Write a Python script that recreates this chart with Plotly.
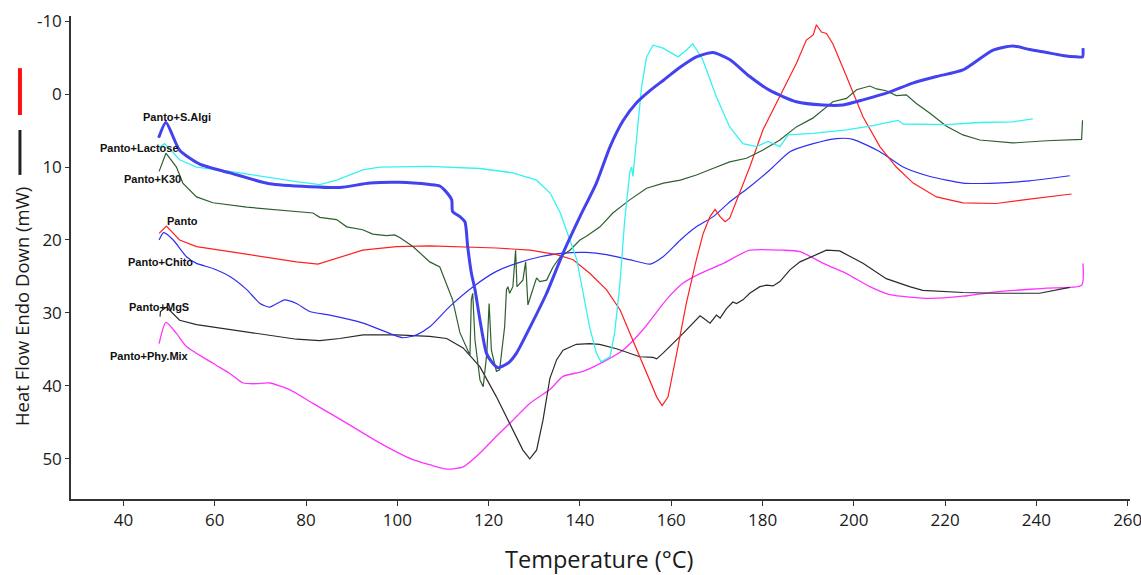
import plotly.graph_objects as go

# ---------------- data (temperature °C, heat flow mW) ----------------
algi_t = [47.7, 49.3, 52.3, 56.7, 63.3, 72.0, 80.8, 87.4, 94.0, 100.5, 107.1, 109.3, 110.4, 111.9, 112.1, 113.7,
          114.8, 115.4, 116.2, 117.0, 118.1, 119.5, 120.9, 122.0, 124.2, 126.1, 129.1, 132.7, 136.3, 140.0, 143.6,
          146.6, 149.5, 152.4, 155.4, 158.3, 162.0, 165.5, 169.1, 172.8, 177.2, 181.6, 187.4, 193.2, 197.6, 202.0,
          207.9, 212.9, 218.1, 223.9, 230.4, 234.8, 238.5, 242.2, 245.7, 248.8, 250.1, 250.2]
algi_v = [6.0, 3.9, 7.7, 9.6, 10.8, 12.3, 12.7, 12.8, 12.2, 12.1, 12.4, 12.6, 13.2, 14.5, 16.1, 16.8,
          17.5, 20.9, 24.5, 26.8, 31.0, 35.5, 36.9, 37.5, 36.9, 35.5, 31.9, 27.3, 21.8, 16.8, 12.2,
          7.2, 3.6, 1.2, -0.5, -1.9, -3.7, -5.1, -5.7, -4.75, -2.4, -0.5, 1.05, 1.5, 1.5, 0.8,
          -0.3, -1.5, -2.4, -3.3, -6.0, -6.6, -6.1, -5.7, -5.3, -5.1, -5.1, -6.3]

lact_t = [47.7, 49.0, 52.3, 56.0, 63.3, 70.5, 77.9, 83.0, 86.7, 92.4, 96.1, 107.1, 118.1, 125.3, 130.5, 133.5,
          135.7, 137.8, 139.3, 140.7, 142.1, 143.6, 144.6, 146.6, 147.6, 148.7, 149.8, 150.9, 151.3, 151.6, 152.4,
          153.5, 154.6, 156.0, 158.2, 161.5, 163.3, 164.7, 166.9, 169.9, 172.8, 175.7, 178.7, 181.2, 183.8, 185.6,
          191.0, 198.4, 203.5, 209.7, 210.8, 220.3, 227.6, 234.8, 239.2]
lact_v = [7.4, 6.8, 9.0, 10.0, 10.6, 11.3, 12.0, 12.4, 11.8, 10.4, 10.0, 9.9, 10.2, 10.8, 11.8, 13.6,
          16.3, 20.0, 22.7, 27.3, 31.9, 35.5, 36.7, 36.0, 32.7, 26.4, 17.3, 10.8, 10.0, 11.3, 5.8,
          -1.0, -5.1, -6.7, -6.3, -5.1, -6.0, -6.9, -4.7, 0.4, 4.5, 6.8, 7.2, 6.5, 7.2, 5.6,
          5.4, 4.9, 4.4, 3.6, 4.1, 4.2, 3.9, 3.8, 3.4]

k30_t = [47.8, 49.3, 51.6, 53.0, 56.0, 59.6, 67.0, 74.2, 81.5, 83.0, 86.7, 88.9, 92.4, 94.6, 97.6, 99.4,
         100.6, 103.4, 107.1, 109.3, 110.4, 112.1, 113.7, 115.1, 115.9, 116.2, 116.5, 117.0, 118.1, 118.8, 119.6,
         120.1, 120.6, 121.7, 122.4, 123.5, 123.9, 124.2, 124.6, 125.3, 125.9, 126.2, 127.5, 128.1, 128.6, 129.4,
         130.5, 131.2, 132.7, 134.1, 135.7, 137.8, 140.0, 141.4, 144.4, 147.2, 150.9, 154.6, 158.3, 162.0, 165.5,
         169.1, 172.8, 176.5, 180.0, 183.8, 187.4, 191.0, 195.4, 198.4, 200.6, 203.5, 205.0, 207.1, 209.3, 211.5,
         213.7, 216.6, 220.3, 223.9, 227.6, 234.8, 242.2, 249.9, 250.1]
k30_v = [10.6, 8.1, 10.0, 12.2, 14.1, 14.9, 15.5, 15.9, 16.3, 16.9, 17.2, 18.2, 18.6, 19.2, 19.4, 19.3,
         19.7, 20.9, 23.0, 23.7, 25.5, 28.2, 32.7, 34.6, 35.8, 28.2, 27.3, 33.7, 39.2, 40.1, 35.5,
         28.7, 35.1, 38.0, 37.8, 31.9, 26.8, 26.4, 27.3, 26.4, 21.4, 26.4, 25.5, 23.0, 28.9, 27.3,
         25.2, 25.7, 25.5, 23.7, 22.3, 21.4, 20.0, 19.5, 18.2, 16.3, 14.5, 12.9, 12.2, 11.8, 11.1,
         10.2, 9.3, 8.8, 7.7, 6.3, 4.5, 3.3, 1.05, 0.6, -0.6, -1.1, -0.7, -0.45, 0.2, 0.1,
         1.3, 2.6, 4.4, 5.6, 6.3, 6.7, 6.4, 6.2, 3.6]

panto_t = [47.8, 49.4, 52.3, 56.0, 63.3, 70.5, 77.9, 82.6, 86.7, 92.4, 99.8, 107.1, 121.7, 129.1, 134.9, 138.5,
           142.2, 145.8, 148.8, 151.6, 154.6, 156.8, 158.0, 159.3, 161.2, 163.3, 165.5, 167.0, 168.5, 169.6, 170.7,
           171.8, 172.8, 175.0, 177.2, 180.1, 183.8, 187.4, 189.6, 191.1, 191.8, 192.9, 194.0, 195.4, 198.4, 202.0,
           205.7, 209.3, 213.0, 218.1, 223.9, 231.2, 238.5, 247.7]
panto_v = [19.1, 18.1, 20.0, 20.9, 21.6, 22.3, 23.0, 23.3, 22.5, 21.4, 20.9, 20.8, 21.1, 21.4, 22.0, 22.7,
           24.6, 26.8, 29.6, 33.7, 38.2, 41.5, 42.7, 41.5, 35.5, 28.7, 22.7, 19.1, 16.8, 15.8, 16.8,
           17.5, 17.0, 13.6, 10.0, 4.9, 0.4, -4.2, -7.4, -8.1, -9.5, -8.5, -8.3, -6.9, -2.4, 3.1,
           7.2, 10.0, 12.2, 14.1, 14.9, 15.0, 14.4, 13.7]

chito_t = [47.8, 48.8, 50.9, 53.8, 56.0, 59.6, 63.3, 67.0, 69.9, 72.0, 75.3, 77.9, 80.8, 85.2, 92.5, 98.3,
           101.2, 104.2, 107.1, 111.5, 116.6, 121.7, 126.1, 131.3, 136.3, 141.4, 145.8, 150.9, 155.4, 158.2, 162.0,
           165.5, 169.2, 172.8, 177.2, 181.6, 186.0, 191.1, 196.2, 199.8, 205.7, 210.8, 216.7, 223.9, 231.2, 238.5,
           247.3]
chito_v = [20.0, 19.0, 20.0, 22.3, 23.2, 23.9, 25.0, 26.8, 28.7, 29.2, 28.2, 28.7, 29.8, 30.3, 31.4, 32.8,
           33.4, 33.0, 31.9, 29.1, 26.4, 24.3, 23.2, 22.3, 21.8, 21.7, 22.0, 22.7, 23.3, 22.3, 20.0,
           18.2, 16.8, 14.8, 12.7, 10.4, 7.9, 6.8, 6.1, 6.2, 7.9, 10.0, 11.3, 12.2, 12.2, 11.9,
           11.2]

mgs_t = [48.0, 48.1, 49.4, 52.3, 56.0, 63.3, 70.6, 77.9, 83.0, 87.4, 92.5, 99.8, 107.1, 110.8, 114.4, 118.1,
         121.7, 125.3, 127.5, 129.0, 130.5, 131.9, 133.4, 134.9, 136.3, 139.2, 142.1, 144.3, 148.0, 153.1, 156.0,
         156.8, 158.2, 162.6, 166.3, 167.0, 168.5, 169.9, 170.7, 172.1, 173.5, 174.3, 175.7, 177.2, 179.4, 180.9,
         182.3, 183.8, 186.0, 188.2, 194.0, 196.9, 202.0, 207.1, 212.2, 215.1, 223.9, 231.2, 240.7, 247.3]
mgs_v = [30.5, 29.8, 29.2, 31.0, 31.6, 32.3, 33.0, 33.6, 33.8, 33.5, 33.0, 33.0, 33.2, 33.5, 34.8, 37.4,
         41.5, 46.0, 48.8, 50.0, 48.8, 44.7, 39.0, 36.4, 35.1, 34.3, 34.2, 34.3, 34.9, 36.0, 36.1,
         36.3, 35.5, 32.8, 30.4, 30.7, 31.4, 30.3, 30.7, 29.4, 28.5, 28.7, 28.2, 27.3, 26.4, 26.2,
         26.3, 25.7, 24.1, 23.0, 21.4, 21.5, 23.2, 25.3, 26.4, 26.9, 27.2, 27.3, 27.3, 26.5]

phy_t = [47.8, 49.3, 51.6, 53.8, 59.6, 63.3, 66.2, 69.1, 72.0, 76.4, 81.5, 88.9, 96.1, 103.4, 107.1, 110.8,
         114.4, 118.1, 121.7, 125.3, 129.0, 133.4, 136.3, 140.7, 145.1, 149.4, 153.8, 158.9, 162.6, 166.3, 171.4,
         177.2, 184.4, 188.2, 193.3, 198.4, 203.5, 207.9, 216.7, 223.9, 231.2, 242.2, 249.9, 250.2]
phy_v = [34.2, 31.3, 32.8, 34.6, 36.9, 38.3, 39.6, 39.7, 39.6, 40.5, 42.4, 45.1, 47.8, 50.1, 50.8, 51.4,
         51.1, 49.2, 46.9, 44.7, 42.4, 40.5, 38.7, 38.0, 36.7, 35.1, 32.3, 28.2, 25.9, 24.6, 23.2,
         21.4, 21.4, 21.6, 23.2, 24.6, 26.4, 27.5, 28.0, 27.7, 27.1, 26.6, 26.2, 23.2]

x_ticks = [40, 60, 80, 100, 120, 140, 160, 180, 200, 220, 240, 260]
y_ticks = [-10, 0, 10, 20, 30, 40, 50]

series = [
    ("Panto+Phy.Mix", phy_t, phy_v, "#ff33ff", 1.3, "spline"),
    ("Panto+MgS", mgs_t, mgs_v, "#2a2a2a", 1.2, "linear"),
    ("Panto+Chito", chito_t, chito_v, "#2f2ff0", 1.2, "spline"),
    ("Panto", panto_t, panto_v, "#ff2020", 1.2, "linear"),
    ("Panto+K30", k30_t, k30_v, "#2f5f2f", 1.2, "linear"),
    ("Panto+Lactose", lact_t, lact_v, "#33f2f2", 1.3, "linear"),
    ("Panto+S.Algi", algi_t, algi_v, "#4242ee", 3.0, "spline"),
]

labels = [
    ("Panto+S.Algi", 51.7, 3.2),
    ("Panto+Lactose", 43.4, 7.4),
    ("Panto+K30", 46.4, 11.6),
    ("Panto", 53.0, 17.4),
    ("Panto+Chito", 48.0, 23.0),
    ("Panto+MgS", 47.7, 29.2),
    ("Panto+Phy.Mix", 45.8, 35.9),
]

fig = go.Figure()
for name, t, v, col, w, shp in series:
    line = dict(color=col, width=w, shape=shp)
    if shp == "spline":
        line["smoothing"] = 0.6
    fig.add_trace(go.Scatter(x=t, y=v, mode="lines", name=name, line=line, showlegend=False))

annotations = []
for txt, lx, ly in labels:
    annotations.append(dict(x=lx, y=ly, xref="x", yref="y", text="<b>" + txt + "</b>", showarrow=False,
                            font=dict(family="Liberation Sans, Arial", size=11, color="#111111"),
                            xanchor="center", yanchor="middle"))
annotations.append(dict(x=-0.0472, y=0.3975, xref="paper", yref="paper", text="Heat Flow Endo Down (mW)",
                        textangle=-90, showarrow=False, xanchor="center", yanchor="middle",
                        font=dict(family="Open Sans", size=18.5, color="#1a1a1a")))
annotations.append(dict(x=0.4986, y=-0.124, xref="paper", yref="paper", text="Temperature (°C)",
                        showarrow=False, xanchor="center", yanchor="middle",
                        font=dict(family="Open Sans", size=23.5, color="#1a1a1a")))

shapes = [
    dict(type="line", xref="paper", yref="paper", x0=-0.0482, x1=-0.0482, y0=0.795, y1=0.892,
         line=dict(color="#ff1010", width=4)),
    dict(type="line", xref="paper", yref="paper", x0=-0.0482, x1=-0.0482, y0=0.671, y1=0.764,
         line=dict(color="#222222", width=3)),
]

fig.update_layout(
    width=1141, height=575,
    margin=dict(l=71, r=11, t=16, b=76, autoexpand=False),
    paper_bgcolor="white", plot_bgcolor="white",
    annotations=annotations, shapes=shapes,
    xaxis=dict(range=[28.5, 260.5], tickmode="array", tickvals=x_ticks,
               ticktext=[str(v) for v in x_ticks], showgrid=False, zeroline=False,
               showline=True, linecolor="#333333", linewidth=1.5, ticks="outside", ticklen=5,
               tickcolor="#333333", ticklabeloverflow="allow", automargin=False,
               tickfont=dict(family="Open Sans", size=17, color="#1a1a1a")),
    yaxis=dict(range=[55.5, -10.7], tickmode="array", tickvals=y_ticks,
               ticktext=[str(v) for v in y_ticks], showgrid=False, zeroline=False,
               showline=True, linecolor="#333333", linewidth=1.5, ticks="outside", ticklen=4,
               tickcolor="#333333", ticklabeloverflow="allow", automargin=False,
               tickfont=dict(family="Open Sans", size=17, color="#1a1a1a")),
)

fig.write_html("out.html")
